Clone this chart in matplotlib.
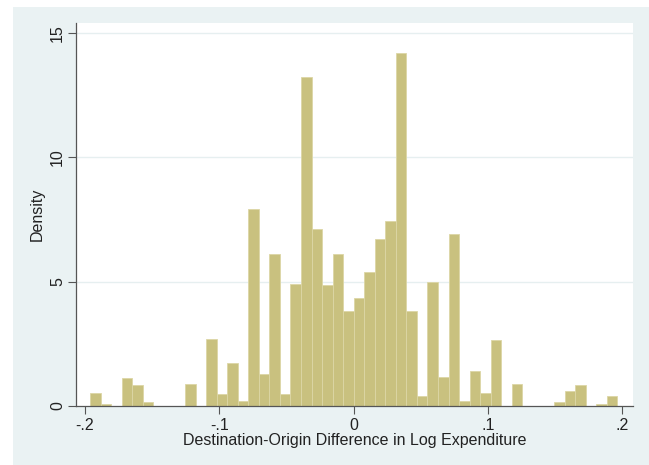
import numpy as np
import matplotlib
matplotlib.use('Agg')
import matplotlib.pyplot as plt
from matplotlib.patches import Rectangle

# histogram: 50 equal bins between the outer edges, density heights
bin_lo, bin_hi = -0.1962, 0.1962
density = [
    0.51, 0.09, 0.0, 1.13, 0.83, 0.16, 0.0, 0.0, 0.0, 0.87,
    0.0, 2.69, 0.47, 1.72, 0.20, 7.92, 1.29, 6.10, 0.47, 4.89,
    13.22, 7.14, 4.85, 6.10, 3.82, 4.34, 5.38, 6.70, 7.45, 14.22,
    3.83, 0.40, 5.00, 1.18, 6.94, 0.21, 1.42, 0.54, 2.65, 0.0,
    0.87, 0.0, 0.0, 0.0, 0.16, 0.60, 0.84, 0.0, 0.09, 0.39,
]
x_ticks = [-0.2, -0.1, 0.0, 0.1, 0.2]
x_ticklabels = ['-.2', '-.1', '0', '.1', '.2']
y_ticks = [0, 5, 10, 15]
x_title = 'Destination-Origin Difference in Log Expenditure'
y_title = 'Density'

plt.rcParams['font.family'] = ['Liberation Sans', 'DejaVu Sans']

edges = np.linspace(bin_lo, bin_hi, len(density) + 1)

fig = plt.figure(figsize=(6.49, 4.65), dpi=100)
fig.patch.set_facecolor('white')
# stata-like graph region, kept behind the axes
fig.patches.append(Rectangle((0.0196, 0.0), 0.9804, 0.9856, transform=fig.transFigure,
                             facecolor='#eaf2f3', edgecolor='none', zorder=-5))

ax = fig.add_axes([0.1171, 0.1269, 0.8582, 0.8236])
ax.set_zorder(2)
ax.set_facecolor('white')
ax.bar(edges[:-1], density, width=np.diff(edges), align='edge',
       color='#c9c17f', edgecolor='#dcd6a6', linewidth=0.6, zorder=2)

ax.set_xlim(-0.2067, 0.2079)
ax.set_ylim(0, 15.41)
ax.set_xticks(x_ticks)
ax.set_xticklabels(x_ticklabels)
ax.set_yticks(y_ticks)
ax.set_yticklabels([str(v) for v in y_ticks], rotation=90, va='center')

for v in y_ticks[1:]:
    ax.axhline(v, color='#e6eff0', linewidth=1.0, zorder=1)

for side in ['top', 'right']:
    ax.spines[side].set_visible(False)
for side in ['left', 'bottom']:
    ax.spines[side].set_color('#555555')
    ax.spines[side].set_linewidth(0.9)

ax.tick_params(axis='both', direction='out', length=6, width=0.8, color='#555555',
               labelsize=11.5, labelcolor='#222222')
ax.tick_params(axis='x', pad=3)
ax.tick_params(axis='y', pad=2)

ax.set_xlabel(x_title, fontsize=11.5, color='#222222', labelpad=0)
ax.set_ylabel(y_title, fontsize=11.5, color='#222222', labelpad=4)

fig.savefig('out.png', dpi=100, facecolor=fig.get_facecolor())
